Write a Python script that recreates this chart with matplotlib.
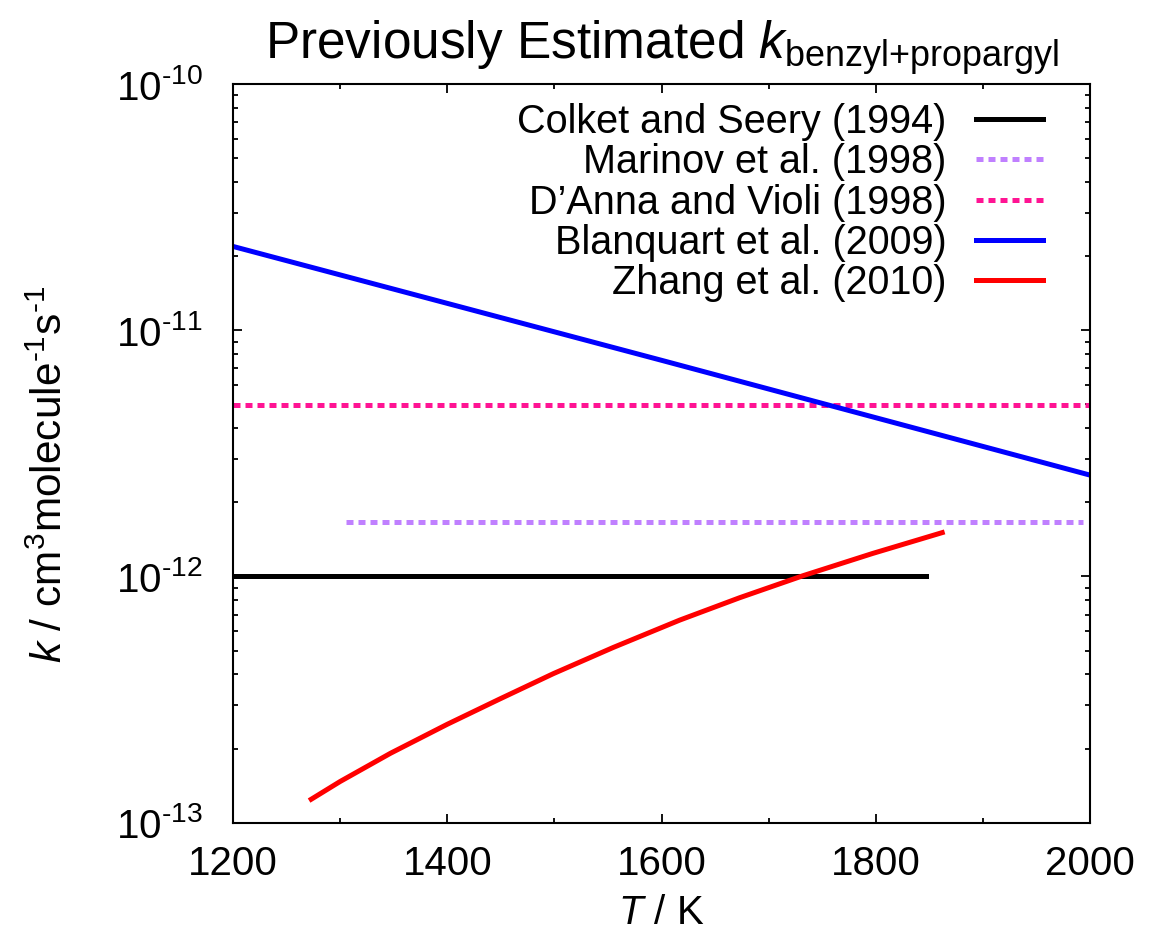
import matplotlib
matplotlib.use('Agg')
import matplotlib.pyplot as plt
from matplotlib.ticker import LogLocator, MultipleLocator, NullFormatter, FuncFormatter
import numpy as np

plt.rcParams['font.family'] = ['Liberation Sans', 'DejaVu Sans']
plt.rcParams['mathtext.fontset'] = 'custom'
plt.rcParams['mathtext.rm'] = 'Liberation Sans'
plt.rcParams['mathtext.it'] = 'Liberation Sans:italic'
plt.rcParams['mathtext.bf'] = 'Liberation Sans:bold'

# values
T_colket = [1200, 1847]
k_colket = [1.0e-12, 1.0e-12]

T_marinov = [1305, 1993]
k_marinov = [1.66e-12, 1.66e-12]

T_danna = [1200, 2000]
k_danna = [4.98e-12, 4.98e-12]

T_blanq = [1200, 1600, 2000]
k_blanq = [2.19e-11, 7.55e-12, 2.58e-12]

T_zhang = [1273, 1300, 1347, 1400, 1449, 1499, 1555, 1617, 1673, 1732, 1797, 1862]
k_zhang = [1.245e-13, 1.47e-13, 1.914e-13, 2.51e-13, 3.18e-13, 4.03e-13,
           5.15e-13, 6.65e-13, 8.2e-13, 1.007e-12, 1.24e-12, 1.507e-12]

labels = ['Colket and Seery (1994)', 'Marinov et al. (1998)',
          "D\u2019Anna and Violi (1998)", 'Blanquart et al. (2009)',
          'Zhang et al. (2010)']

y_ticks = [1e-13, 1e-12, 1e-11, 1e-10]
x_ticks = [1200, 1400, 1600, 1800, 2000]

fig = plt.figure(figsize=(11.49, 9.40), dpi=100)
ax = fig.add_axes([0.2028, 0.1248, 0.9487 - 0.2028, 0.9106 - 0.1248])

lw = 3.6
dash = (0, (1.4, 1.0))
ax.plot(T_colket, k_colket, color='black', lw=lw, label=labels[0])
ax.plot(T_marinov, k_marinov, color='#c080ff', lw=lw, ls=dash,
        dash_capstyle='butt', label=labels[1])
ax.plot(T_danna, k_danna, color='#ff1493', lw=lw, ls=dash,
        dash_capstyle='butt', label=labels[2])
ax.plot(T_blanq, k_blanq, color='#0000ff', lw=lw, label=labels[3])
ax.plot(T_zhang, k_zhang, color='#ff0000', lw=lw, label=labels[4])

ax.set_yscale('log')
ax.set_xlim(1200, 2000)
ax.set_ylim(1e-13, 1e-10)
ax.set_xticks(x_ticks)
ax.xaxis.set_minor_locator(MultipleLocator(100))
ax.set_yticks(y_ticks)
ax.yaxis.set_minor_locator(LogLocator(base=10, subs=range(2, 10), numticks=20))
ax.yaxis.set_minor_formatter(NullFormatter())
ax.yaxis.set_major_formatter(FuncFormatter(
    lambda v, p: '$\\mathdefault{10^{\\text{-}%d}}$' % round(-np.log10(v))))

ax.tick_params(which='both', direction='in', top=True, right=True, width=1.3)
ax.tick_params(which='major', length=6.5)
ax.tick_params(which='minor', length=3.5)
ax.tick_params(axis='x', which='major', labelsize=29, pad=16)
ax.tick_params(axis='y', which='major', labelsize=29, pad=22)
for s in ax.spines.values():
    s.set_linewidth(1.5)

ax.set_xlabel('$T$ / K', fontsize=29, labelpad=8)
ax.set_ylabel('$k$ / cm$^{3}$molecule$^{\\text{-}1}$s$^{\\text{-}1}$', fontsize=30.5)
ax.yaxis.set_label_coords(-0.189, 0.472)
ax.set_title('Previously Estimated $k_{\\text{benzyl+propargyl}}$',
             fontsize=37, pad=18)

ax.legend(loc='upper right', bbox_to_anchor=(0.964, 0.996), borderaxespad=0,
          frameon=False, fontsize=28.5, markerfirst=False,
          handlelength=1.7, handletextpad=0.75, labelspacing=0.06)

fig.savefig('out.png', dpi=100)
